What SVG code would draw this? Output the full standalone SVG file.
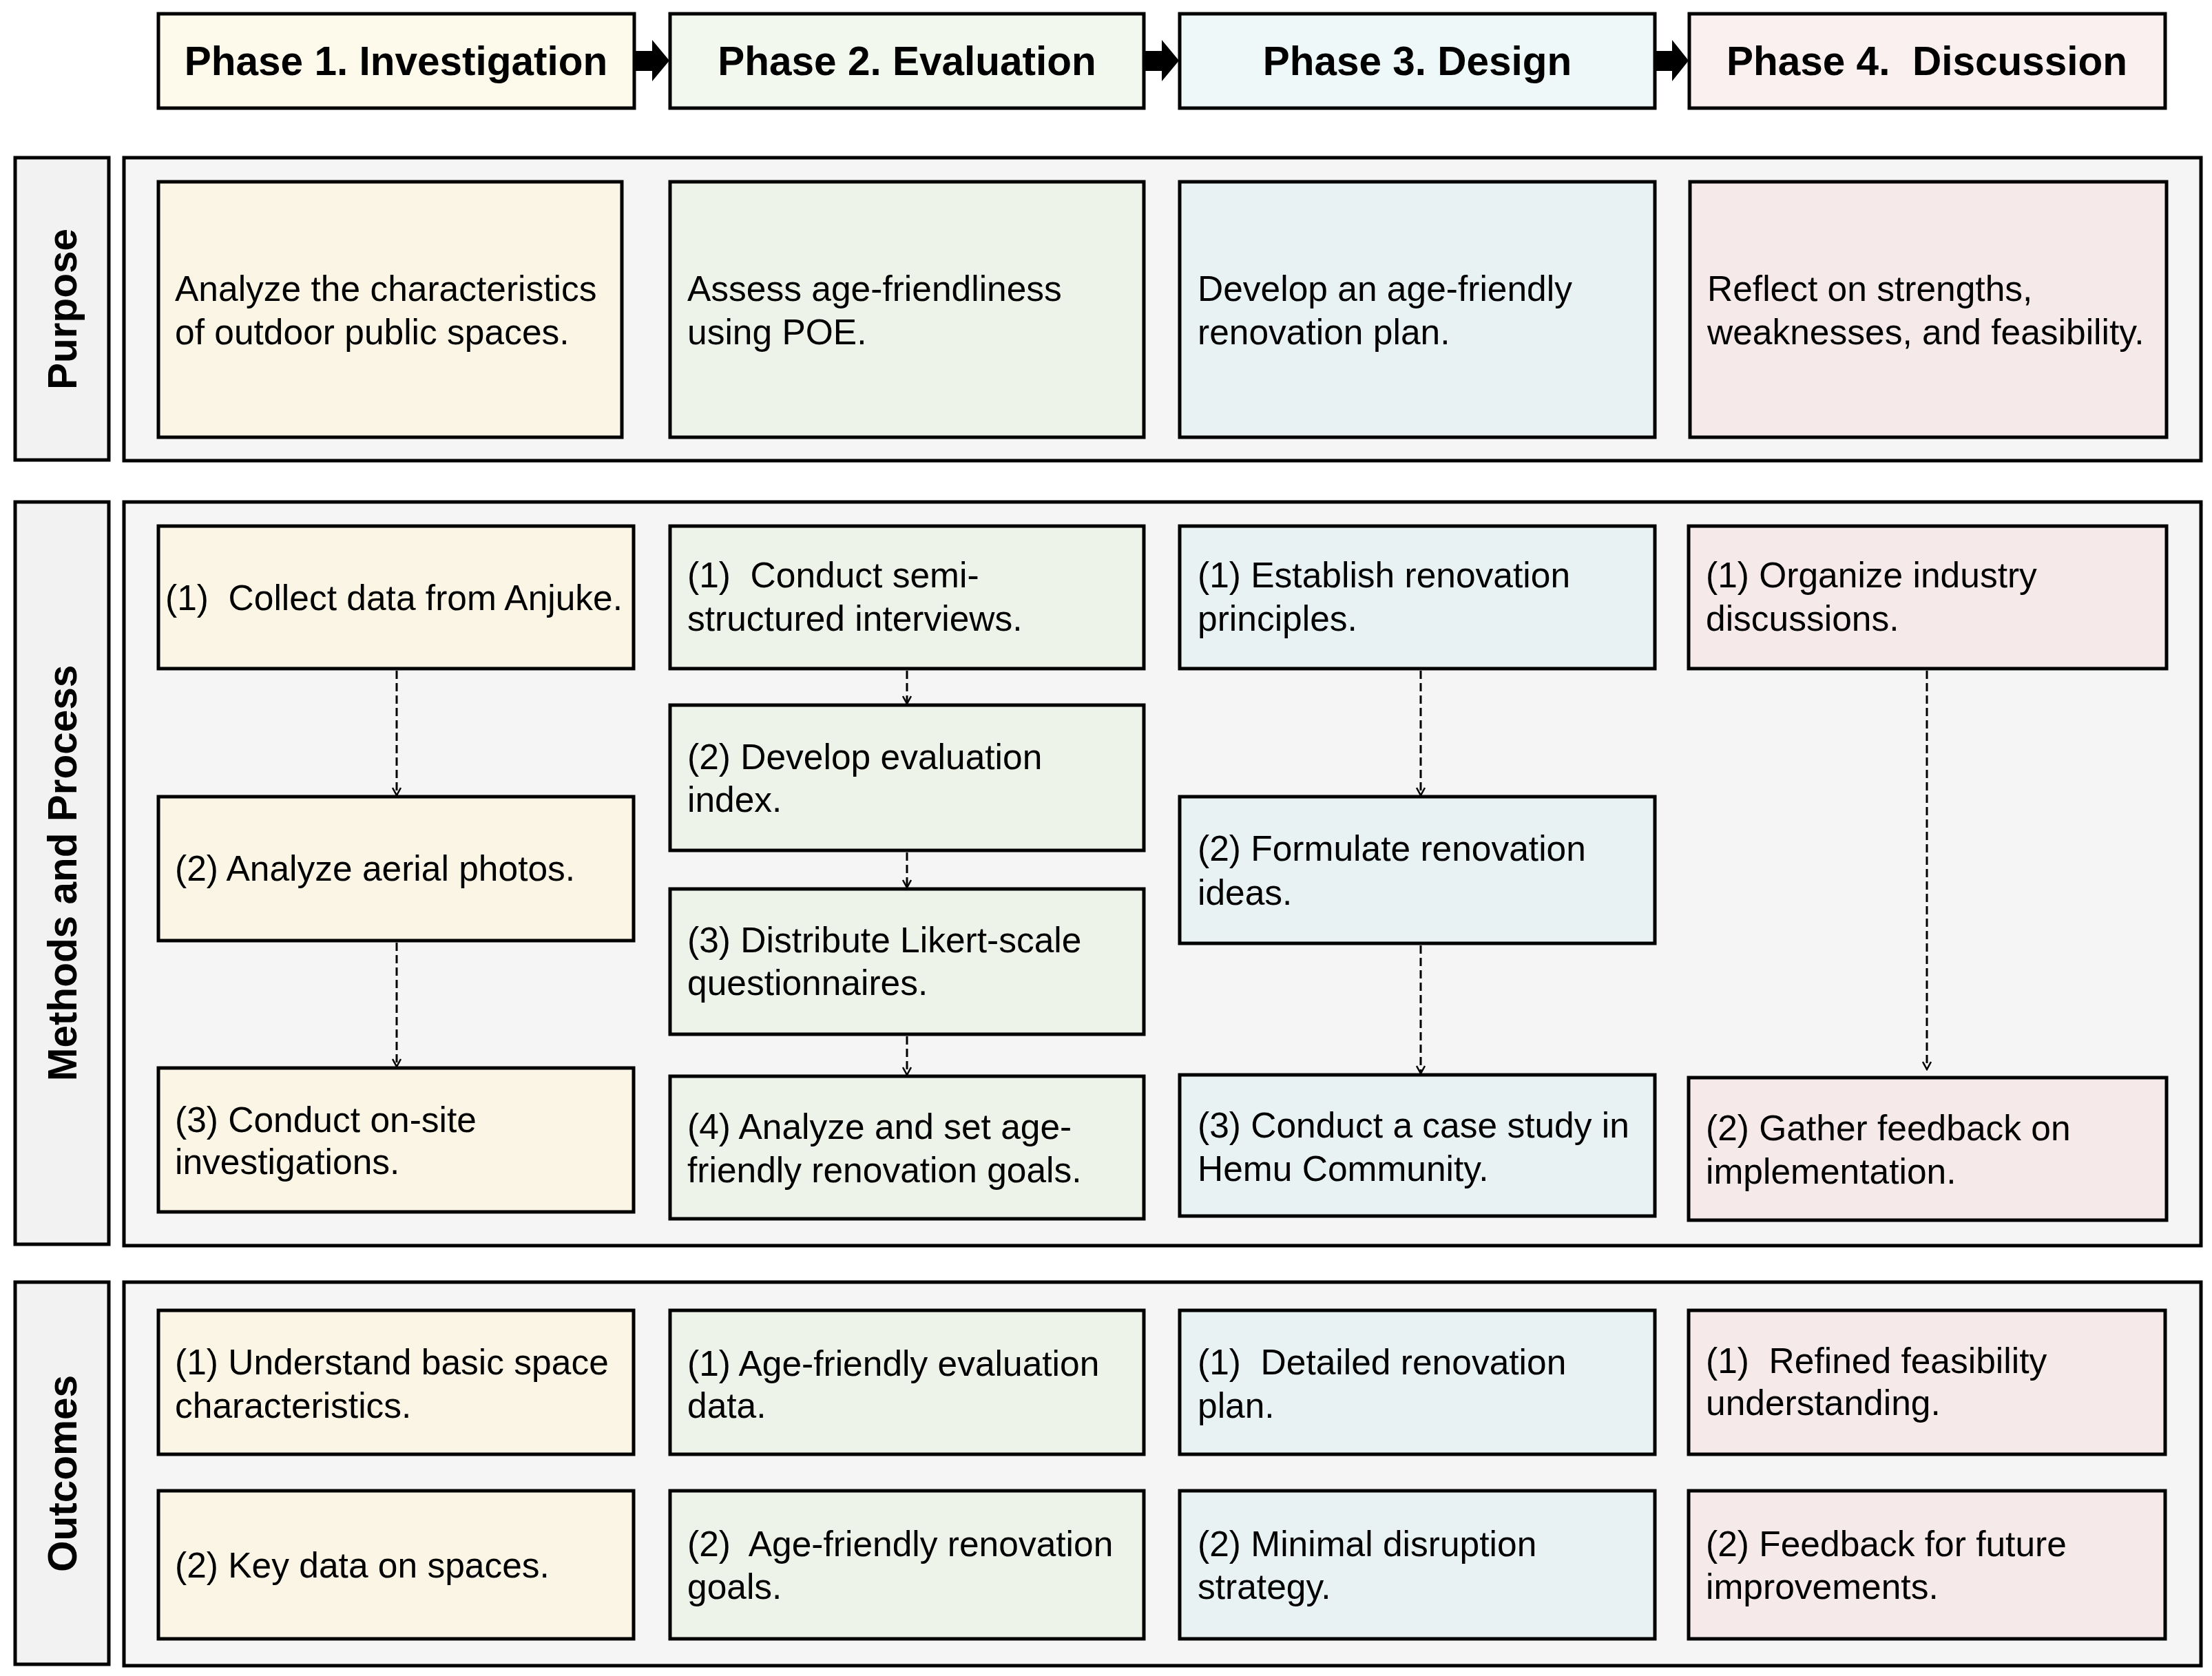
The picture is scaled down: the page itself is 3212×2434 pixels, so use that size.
<svg xmlns="http://www.w3.org/2000/svg" width="3212" height="2434" viewBox="0 0 3212 2434">
<style>
.b{stroke:#000;stroke-width:5}
.t{font-family:"Liberation Sans",Arial,sans-serif;font-size:51.5px;fill:#000;white-space:pre}
.h{font-family:"Liberation Sans",Arial,sans-serif;font-size:58.5px;font-weight:bold;fill:#000;text-anchor:middle;white-space:pre}
.c1h{fill:#fefaeb}.c2h{fill:#f3f8ef}.c3h{fill:#eef8f8}.c4h{fill:#fbf0f0}
.c1{fill:#fbf5e6}.c2{fill:#eef3e9}.c3{fill:#e8f2f2}.c4{fill:#f5e9e9}
.sec{fill:#f5f5f5}.lab{fill:#f2f2f2}
.cn{stroke:#000;stroke-width:3;stroke-dasharray:12 6;fill:none;marker-end:url(#v)}
</style>
<defs>
<marker id="v" markerWidth="14" markerHeight="14" refX="12" refY="7" orient="auto" markerUnits="userSpaceOnUse" viewBox="0 0 14 14">
<path d="M1 1 L12 7 L1 13" fill="none" stroke="#000" stroke-width="2.5"/>
</marker>
</defs>
<rect width="3212" height="2434" fill="#fff"/>
<g id="headers">
<g id="h1"><rect class="b c1h" x="230" y="20" width="691" height="137"/><text class="h" x="575" y="109">Phase 1. Investigation</text></g>
<g id="h2"><rect class="b c2h" x="973" y="20" width="688" height="137"/><text class="h" x="1317" y="109">Phase 2. Evaluation</text></g>
<g id="h3"><rect class="b c3h" x="1713" y="20" width="690" height="137"/><text class="h" x="2058" y="109">Phase 3. Design</text></g>
<g id="h4"><rect class="b c4h" x="2453" y="20" width="691" height="137"/><text class="h" x="2798" y="109">Phase 4.  Discussion</text></g>
</g>
<g id="header-arrows" fill="#000">
<path d="M922 74 H947 V58 L972 88 L947 118 V103 H922 Z"/>
<path d="M1662 74 H1687 V58 L1712 88 L1687 118 V103 H1662 Z"/>
<path d="M2404 74 H2428 V58 L2452 88 L2428 118 V103 H2404 Z"/>
</g>
<g id="sections">
<rect class="b lab" x="22" y="229" width="136" height="439"/>
<text class="h" transform="translate(111 449) rotate(-90)">Purpose</text>
<rect class="b sec" x="180" y="229" width="3016" height="440"/>
<rect class="b lab" x="22" y="729" width="136" height="1078"/>
<text class="h" transform="translate(111 1268) rotate(-90)">Methods and Process</text>
<rect class="b sec" x="180" y="729" width="3016" height="1080"/>
<rect class="b lab" x="22" y="1862" width="136" height="555"/>
<text class="h" transform="translate(111 2140) rotate(-90)">Outcomes</text>
<rect class="b sec" x="180" y="1862" width="3016" height="557"/>
</g>
<g id="purpose">
<g id="p1"><rect class="b c1" x="230" y="264" width="673" height="371"/><text class="t" x="254" y="437">Analyze the characteristics</text><text class="t" x="254" y="500">of outdoor public spaces.</text></g>
<g id="p2"><rect class="b c2" x="973" y="264" width="688" height="371"/><text class="t" x="998" y="437">Assess age-friendliness</text><text class="t" x="998" y="500">using POE.</text></g>
<g id="p3"><rect class="b c3" x="1713" y="264" width="690" height="371"/><text class="t" x="1739" y="437">Develop an age-friendly</text><text class="t" x="1739" y="500">renovation plan.</text></g>
<g id="p4"><rect class="b c4" x="2454" y="264" width="692" height="371"/><text class="t" x="2479" y="437">Reflect on strengths,</text><text class="t" x="2479" y="500">weaknesses, and feasibility.</text></g>
</g>
<g id="methods">
<g id="m1-1"><rect class="b c1" x="230" y="764" width="690" height="207"/><text class="t" x="240" y="886">(1)  Collect data from Anjuke.</text></g>
<g id="m1-2"><rect class="b c1" x="230" y="1157" width="690" height="209"/><text class="t" x="254" y="1279">(2) Analyze aerial photos.</text></g>
<g id="m1-3"><rect class="b c1" x="230" y="1551" width="690" height="209"/><text class="t" x="254" y="1644">(3) Conduct on-site</text><text class="t" x="254" y="1705">investigations.</text></g>
<g id="m2-1"><rect class="b c2" x="973" y="764" width="688" height="207"/><text class="t" x="998" y="853">(1)  Conduct semi-</text><text class="t" x="998" y="916">structured interviews.</text></g>
<g id="m2-2"><rect class="b c2" x="973" y="1024" width="688" height="211"/><text class="t" x="998" y="1117">(2) Develop evaluation</text><text class="t" x="998" y="1179">index.</text></g>
<g id="m2-3"><rect class="b c2" x="973" y="1291" width="688" height="211"/><text class="t" x="998" y="1383">(3) Distribute Likert-scale</text><text class="t" x="998" y="1445">questionnaires.</text></g>
<g id="m2-4"><rect class="b c2" x="973" y="1563" width="688" height="207"/><text class="t" x="998" y="1654">(4) Analyze and set age-</text><text class="t" x="998" y="1717">friendly renovation goals.</text></g>
<g id="m3-1"><rect class="b c3" x="1713" y="764" width="690" height="207"/><text class="t" x="1739" y="853">(1) Establish renovation</text><text class="t" x="1739" y="916">principles.</text></g>
<g id="m3-2"><rect class="b c3" x="1713" y="1157" width="690" height="213"/><text class="t" x="1739" y="1250">(2) Formulate renovation</text><text class="t" x="1739" y="1314">ideas.</text></g>
<g id="m3-3"><rect class="b c3" x="1713" y="1561" width="690" height="205"/><text class="t" x="1739" y="1652">(3) Conduct a case study in</text><text class="t" x="1739" y="1715">Hemu Community.</text></g>
<g id="m4-1"><rect class="b c4" x="2452" y="764" width="694" height="207"/><text class="t" x="2477" y="853">(1) Organize industry</text><text class="t" x="2477" y="916">discussions.</text></g>
<g id="m4-2"><rect class="b c4" x="2452" y="1565" width="694" height="207"/><text class="t" x="2477" y="1656">(2) Gather feedback on</text><text class="t" x="2477" y="1719">implementation.</text></g>
</g>
<g id="connectors">
<path class="cn" d="M576 974 V1155"/>
<path class="cn" d="M576 1369 V1549"/>
<path class="cn" d="M1317 974 V1022"/>
<path class="cn" d="M1317 1238 V1289"/>
<path class="cn" d="M1317 1505 V1561"/>
<path class="cn" d="M2063 974 V1155"/>
<path class="cn" d="M2063 1373 V1559"/>
<path class="cn" d="M2798 974 V1553"/>
</g>
<g id="outcomes">
<g id="o1-1"><rect class="b c1" x="230" y="1903" width="690" height="209"/><text class="t" x="254" y="1996">(1) Understand basic space</text><text class="t" x="254" y="2059">characteristics.</text></g>
<g id="o1-2"><rect class="b c1" x="230" y="2165" width="690" height="215"/><text class="t" x="254" y="2291">(2) Key data on spaces.</text></g>
<g id="o2-1"><rect class="b c2" x="973" y="1903" width="688" height="209"/><text class="t" x="998" y="1998">(1) Age-friendly evaluation</text><text class="t" x="998" y="2059">data.</text></g>
<g id="o2-2"><rect class="b c2" x="973" y="2165" width="688" height="215"/><text class="t" x="998" y="2260">(2)  Age-friendly renovation</text><text class="t" x="998" y="2322">goals.</text></g>
<g id="o3-1"><rect class="b c3" x="1713" y="1903" width="690" height="209"/><text class="t" x="1739" y="1996">(1)  Detailed renovation</text><text class="t" x="1739" y="2059">plan.</text></g>
<g id="o3-2"><rect class="b c3" x="1713" y="2165" width="690" height="215"/><text class="t" x="1739" y="2260">(2) Minimal disruption</text><text class="t" x="1739" y="2322">strategy.</text></g>
<g id="o4-1"><rect class="b c4" x="2452" y="1903" width="692" height="209"/><text class="t" x="2477" y="1994">(1)  Refined feasibility</text><text class="t" x="2477" y="2055">understanding.</text></g>
<g id="o4-2"><rect class="b c4" x="2452" y="2165" width="692" height="215"/><text class="t" x="2477" y="2260">(2) Feedback for future</text><text class="t" x="2477" y="2322">improvements.</text></g>
</g>
</svg>
